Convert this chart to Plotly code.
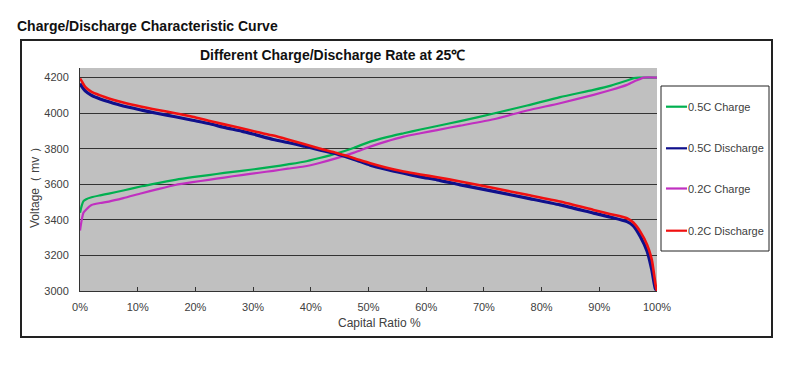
import plotly.graph_objects as go

# ---------------- data ----------------
series_names = ["0.5C Charge", "0.5C Discharge", "0.2C Charge", "0.2C Discharge"]
series_colors = ["#00B050", "#10108C", "#C030C0", "#F01010"]

charge05_x = [0, 0.3, 0.6, 1, 2, 3.5, 5, 7.5, 10.7, 13.5, 16.5, 19.5, 22.3, 25, 28, 31,
              33.5, 36, 38.8, 41.5, 44.5, 47.5, 50.3, 53, 56.1, 59, 61.9, 65.9, 71.7,
              77.5, 83.2, 89, 92, 94.8, 96, 97, 100]
charge05_y = [3440, 3480, 3505, 3515, 3527, 3538, 3548, 3565, 3589, 3607, 3625, 3640, 3652,
              3664, 3676, 3688, 3699, 3712, 3727, 3748, 3774, 3806, 3840, 3864, 3887, 3908,
              3928, 3955, 3998, 4043, 4090, 4131, 4155, 4184, 4197, 4200, 4200]

charge02_x = [0, 0.3, 0.6, 1, 2, 3.5, 5, 7.5, 10.7, 13.5, 16.5, 19.5, 22.3, 25, 28, 31,
              33.5, 36, 38.8, 41.5, 44.5, 47.5, 50.3, 53, 56.1, 59, 61.9, 65.9, 71.7,
              77.5, 83.2, 89, 92, 94.8, 96.5, 97.7, 100]
charge02_y = [3340, 3400, 3440, 3456, 3484, 3495, 3503, 3522, 3550, 3573, 3596, 3612, 3625,
              3638, 3652, 3665, 3676, 3688, 3700, 3720, 3747, 3778, 3812, 3840, 3868, 3887,
              3905, 3930, 3966, 4015, 4056, 4103, 4130, 4159, 4185, 4200, 4200]

dis05_x = [0, 0.3, 0.9, 2, 3.5, 5, 7.5, 10.7, 13.5, 16.5, 19.5, 22.3, 25, 28, 30.5, 33.5,
           36, 38.8, 41.5, 44.5, 47.5, 50.3, 53, 56.1, 59, 61.9, 65.9, 71.7, 77.5, 83.2,
           89, 92, 94.8, 95.9, 97.1, 98.3, 99.1, 99.7, 100]
dis05_y = [4167, 4150, 4125, 4100, 4080, 4064, 4040, 4017, 3998, 3980, 3960, 3942, 3920,
           3899, 3878, 3852, 3835, 3815, 3793, 3770, 3740, 3708, 3685, 3662, 3642, 3625,
           3597, 3560, 3522, 3484, 3438, 3415, 3390, 3366, 3306, 3222, 3118, 3015, 3000]

dis02_x = [0, 0.3, 0.9, 2, 3.5, 5, 7.5, 10.7, 13.5, 16.5, 19.5, 22.3, 25, 28, 30.5, 33.5,
           36, 38.8, 41.5, 44.5, 47.5, 50.3, 53, 56.1, 59, 61.9, 65.9, 71.7, 77.5, 83.2,
           89, 92, 94.8, 95.9, 97.1, 98.3, 99.1, 99.8, 100]
dis02_y = [4195, 4180, 4148, 4120, 4100, 4083, 4060, 4036, 4018, 4000, 3980, 3958, 3937,
           3915, 3895, 3874, 3852, 3826, 3801, 3776, 3747, 3719, 3695, 3672, 3655, 3640,
           3616, 3579, 3541, 3503, 3456, 3432, 3409, 3385, 3334, 3259, 3175, 3025, 3000]

x_ticks = [0, 10, 20, 30, 40, 50, 60, 70, 80, 90, 100]
x_tick_labels = ["0%", "10%", "20%", "30%", "40%", "50%", "60%", "70%", "80%", "90%", "100%"]
y_ticks = [3000, 3200, 3400, 3600, 3800, 4000, 4200]

# ---------------- layout helpers ----------------
# page body has an 8px margin, so the figure is drawn 8px smaller and offset
OFF = 8
FIG_W, FIG_H = 800 - OFF, 384 - OFF
PL, PR, PT, PB = 80, 657, 68, 291      # plot area in screen pixels
W, H = PR - PL, PB - PT


def px(x):
    return (x - PL) / W


def py(y):
    return (PB - y) / H


FONT = "Arial, Liberation Sans, sans-serif"
TXT = "#404040"

fig = go.Figure()
draw = [
    (charge05_x, charge05_y, 0, 2.2),
    (charge02_x, charge02_y, 2, 2.2),
    (dis05_x, dis05_y, 1, 3.2),
    (dis02_x, dis02_y, 3, 2.6),
]
for xs, ys, idx, w in draw:
    fig.add_trace(go.Scatter(
        x=xs, y=ys, mode="lines", name=series_names[idx],
        line=dict(color=series_colors[idx], width=w, shape="spline", smoothing=0.6),
        showlegend=False, hoverinfo="x+y+name"))

shapes = []
annotations = []
shapes.append(dict(type="rect", xref="paper", yref="paper",
                   x0=px(21), x1=px(772), y0=py(337), y1=py(40),
                   line=dict(color="#222222", width=2), layer="below"))
shapes.append(dict(type="rect", xref="paper", yref="paper",
                   x0=px(661), x1=px(769), y0=py(251), y1=py(86),
                   line=dict(color="#222222", width=1), fillcolor="white"))
leg_y = [106.7, 148.3, 188.5, 230.7]
for i, name in enumerate(series_names):
    shapes.append(dict(type="line", xref="paper", yref="paper",
                       x0=px(666), x1=px(687), y0=py(leg_y[i]), y1=py(leg_y[i]),
                       line=dict(color=series_colors[i], width=2.2)))
    annotations.append(dict(xref="paper", yref="paper", x=px(686), y=py(leg_y[i]),
                            xanchor="left", yanchor="middle", showarrow=False,
                            text=name, font=dict(family=FONT, size=11, color=TXT)))

annotations += [
    dict(xref="paper", yref="paper", x=px(15), y=py(26), xanchor="left", yanchor="middle",
         showarrow=False, text="<b>Charge/Discharge Characteristic Curve</b>",
         font=dict(family=FONT, size=14, color="#111111")),
    dict(xref="paper", yref="paper", x=px(332), y=py(55), xanchor="center", yanchor="middle",
         showarrow=False, text="<b>Different Charge/Discharge Rate at 25℃</b>",
         font=dict(family=FONT, size=14, color="#111111")),
    dict(xref="paper", yref="paper", x=px(35), y=py(185), xanchor="center", yanchor="middle",
         showarrow=False, text="Voltage（ mv ）", textangle=-90,
         font=dict(family=FONT, size=12, color=TXT)),
    dict(xref="paper", yref="paper", x=px(379), y=py(323), xanchor="center", yanchor="middle",
         showarrow=False, text="Capital Ratio %",
         font=dict(family=FONT, size=12, color=TXT)),
]

fig.update_layout(
    width=FIG_W, height=FIG_H,
    margin=dict(l=PL - OFF, r=FIG_W - (PR - OFF), t=PT - OFF, b=FIG_H - (PB - OFF),
                autoexpand=False),
    paper_bgcolor="white", plot_bgcolor="#C0C0C0",
    shapes=shapes, annotations=annotations,
    showlegend=False,
)
fig.update_xaxes(range=[0, 100], tickvals=x_ticks, ticktext=x_tick_labels,
                 showgrid=False, zeroline=False, showline=True, linecolor="#333333",
                 linewidth=1, ticks="inside", ticklen=4, tickcolor="#333333",
                 ticklabelstandoff=6,
                 tickfont=dict(family=FONT, size=11, color=TXT), fixedrange=True)
fig.update_yaxes(range=[3000, 4254], tickvals=y_ticks, showgrid=True,
                 gridcolor="#333333", gridwidth=1, zeroline=False, showline=True,
                 linecolor="#333333", linewidth=1, ticks="", ticklabelstandoff=8,
                 tickfont=dict(family=FONT, size=11, color=TXT), fixedrange=True)

fig.write_html("out.html")
